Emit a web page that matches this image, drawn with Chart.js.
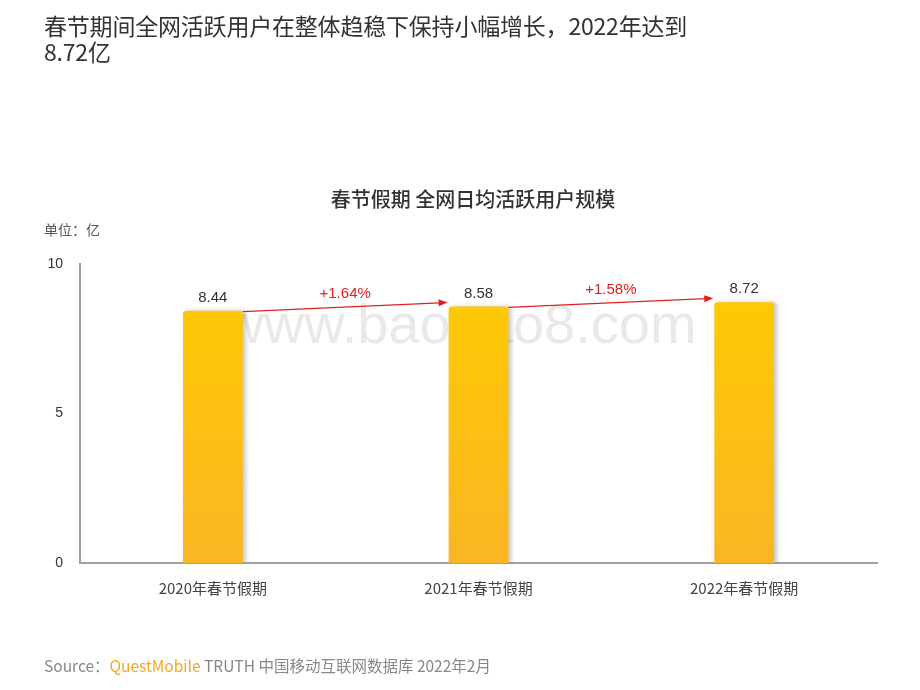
<!DOCTYPE html>
<html>
<head>
<meta charset="utf-8">
<script src="https://cdn.jsdelivr.net/npm/chart.js@4.4.0/dist/chart.umd.min.js"></script>
<style>
  body { margin: 0; background: #fff; font-family: "Noto Sans CJK SC", "Noto Sans", sans-serif; }
  #wrap { position: relative; width: 920px; height: 690px; overflow: hidden; }
  canvas { position: absolute; left: 0; top: 0; }
  .txt { position: absolute; white-space: nowrap; }
  #title { left: 44px; top: 12px; font-size: 23px; line-height: 26px; color: #333; letter-spacing: -0.2px; }
  #sub { left: 0; width: 946px; text-align: center; top: 184px; font-size: 20px; color: #333; font-weight: 500; }
  #unit { left: 44px; top: 219px; font-size: 14px; color: #555; }
  #source { left: 44px; top: 654px; font-size: 15.5px; color: #888; }
  #source span { color: #f5a623; }
</style>
</head>
<body>
<div id="wrap">
  <canvas id="c" width="920" height="690"></canvas>
  <div class="txt" id="title">春节期间全网活跃用户在整体趋稳下保持小幅增长，2022年达到<br>8.72亿</div>
  <div class="txt" id="sub">春节假期 全网日均活跃用户规模</div>
  <div class="txt" id="unit">单位：亿</div>
  <div class="txt" id="source">Source：<span>QuestMobile</span> TRUTH 中国移动互联网数据库 2022年2月</div>
</div>
<script>
const categories = ['2020年春节假期', '2021年春节假期', '2022年春节假期'];
const users = [8.44, 8.58, 8.72];
const growth = ['+1.64%', '+1.58%'];
const yTicks = [0, 5, 10];

// 数据标签、增长箭头和水印
const extras = {
  id: 'extras',
  beforeDatasetsDraw(chart) {
    const ctx = chart.ctx;
    ctx.save();
    ctx.font = '56px "Liberation Sans", Arial, sans-serif';
    ctx.fillStyle = 'rgba(200,200,200,0.4)';
    ctx.textAlign = 'center';
    ctx.textBaseline = 'middle';
    ctx.fillText('www.baogao8.com', 460, 328);
    ctx.restore();
  },
  afterDatasetsDraw(chart) {
    const ctx = chart.ctx;
    const bars = chart.getDatasetMeta(0).data;
    ctx.save();
    ctx.font = '15px "Liberation Sans", Arial, sans-serif';
    ctx.fillStyle = '#333';
    ctx.textAlign = 'center';
    ctx.textBaseline = 'middle';
    bars.forEach((b, i) => ctx.fillText(users[i].toFixed(2), b.x, b.y - 13));

    ctx.strokeStyle = '#e02020';
    ctx.fillStyle = '#e02020';
    ctx.lineWidth = 1.3;
    for (let i = 0; i < bars.length - 1; i++) {
      const a = bars[i], n = bars[i + 1];
      const x1 = a.x + a.width / 2, y1 = a.y + 1;
      const x2 = n.x - n.width / 2 - 1, y2 = n.y - 4;
      const ang = Math.atan2(y2 - y1, x2 - x1);
      ctx.beginPath();
      ctx.moveTo(x1, y1);
      ctx.lineTo(x2 - 8 * Math.cos(ang), y2 - 8 * Math.sin(ang));
      ctx.stroke();
      ctx.beginPath();
      ctx.moveTo(x2, y2);
      ctx.lineTo(x2 - 9 * Math.cos(ang) + 3.5 * Math.sin(ang), y2 - 9 * Math.sin(ang) - 3.5 * Math.cos(ang));
      ctx.lineTo(x2 - 9 * Math.cos(ang) - 3.5 * Math.sin(ang), y2 - 9 * Math.sin(ang) + 3.5 * Math.cos(ang));
      ctx.closePath();
      ctx.fill();
      ctx.font = '15px "Liberation Sans", Arial, sans-serif';
      ctx.fillText(growth[i], (x1 + x2) / 2, (y1 + y2) / 2 - 13);
    }
    ctx.restore();
  },
  beforeDatasetDraw(chart) {
    const ctx = chart.ctx;
    ctx.save();
    ctx.shadowColor = 'rgba(0,0,0,0.22)';
    ctx.shadowBlur = 4;
    ctx.shadowOffsetX = 3;
  },
  afterDatasetDraw(chart) {
    chart.ctx.restore();
  }
};

function barGradient(context) {
  const area = context.chart.chartArea;
  if (!area) return '#ffc800';
  const g = context.chart.ctx.createLinearGradient(0, area.top, 0, area.bottom);
  g.addColorStop(0, '#ffcc00');
  g.addColorStop(1, '#fbb624');
  return g;
}

new Chart(document.getElementById('c'), {
  type: 'bar',
  data: {
    labels: categories,
    datasets: [{
      data: users,
      backgroundColor: barGradient,
      borderRadius: { topLeft: 3, topRight: 3 },
      borderSkipped: 'bottom',
      categoryPercentage: 1,
      barPercentage: 0.225
    }]
  },
  options: {
    responsive: false,
    animation: false,
    layout: { padding: { left: 0, right: 43, top: 264, bottom: 87 } },
    plugins: { legend: { display: false }, tooltip: { enabled: false } },
    scales: {
      x: {
        grid: { display: false, drawTicks: false },
        border: { color: '#a0a0a0', width: 2 },
        ticks: { color: '#444', padding: 16, font: { size: 15, family: '"Noto Sans CJK SC", sans-serif' } },
        afterFit(s) { s.height = 40; }
      },
      y: {
        min: 0,
        max: 10,
        grid: { display: false, drawTicks: false },
        border: { color: '#a0a0a0', width: 2 },
        afterBuildTicks(s) { s.ticks = yTicks.map(v => ({ value: v })); },
        ticks: { color: '#333', padding: 17, font: { size: 14, family: '"Liberation Sans", Arial, sans-serif' } },
        afterFit(s) { s.width = 80; }
      }
    }
  },
  plugins: [extras]
});
</script>
</body>
</html>
